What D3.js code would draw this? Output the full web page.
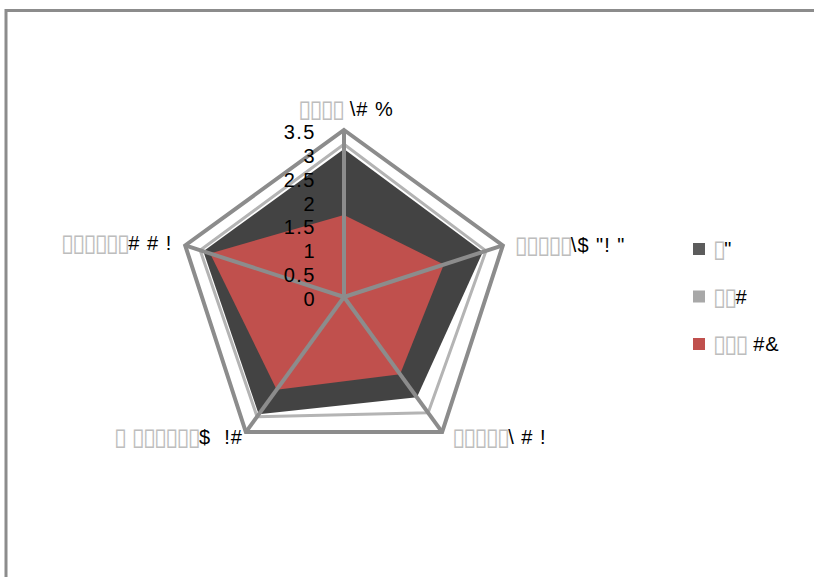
<!DOCTYPE html>
<html>
<head>
<meta charset="utf-8">
<script src="https://cdn.jsdelivr.net/npm/d3@7"></script>
<style>
  body { margin: 0; background: #fff; }
  text { font-family: "Liberation Sans", Arial, sans-serif; white-space: pre; }
  .box { font-family: "DejaVu Sans", sans-serif; font-size: 24px; }
</style>
</head>
<body>
<div id="chart"></div>
<script>

// chart size, and where the radar sits
const width = 814;
const height = 577;
const cx = 344, cy = 297;
const maxR = 167;

// data (labels are as garbled as in the original)
const categories = ['▯▯▯▯ \\# %', '▯▯▯▯▯\\$ "! "', '▯▯▯▯▯\\ # !', '▯ ▯▯▯▯▯▯$  !#', '▯▯▯▯▯▯# # !'];
const seriesNames = ['▯"', '▯▯#', '▯▯▯ #&'];
const seriesDark = [3.1, 3.06, 2.6, 3.04, 3.1];
const seriesLight = [3.2, 3.13, 3.0, 3.1, 3.17];
const seriesRed = [1.72, 2.2, 2.0, 2.4, 2.95];
const ticks = [0, 0.5, 1, 1.5, 2, 2.5, 3, 3.5];

const colors = ['#434343', '#b4b4b4', '#c0504d'];
const legendColors = ['#5c5c5c', '#a8a8a8', '#c0504d'];
const gridColor = '#8c8c8c';

const svg = d3.select("#chart")
  .append("svg")
  .attr("width", width)
  .attr("height", height);

// outer frame, runs off the right and bottom edges
svg.append("rect")
  .attr("x", 6).attr("y", 10.5)
  .attr("width", 900).attr("height", 700)
  .attr("fill", "none")
  .attr("stroke", gridColor)
  .attr("stroke-width", 3);

const rScale = d3.scaleLinear()
  .domain([0, d3.max(ticks)])
  .range([0, maxR]);

const angle = i => i * 2 * Math.PI / categories.length;

const radar = d3.lineRadial()
  .angle((d, i) => angle(i))
  .radius(d => rScale(d))
  .curve(d3.curveLinearClosed);

const g = svg.append("g").attr("transform", `translate(${cx},${cy})`);

// light series: only its edge shows
g.append("path")
  .attr("d", radar(seriesLight))
  .attr("fill", "#fff")
  .attr("stroke", colors[1])
  .attr("stroke-width", 3)
  .attr("stroke-linejoin", "round");

g.append("path")
  .attr("d", radar(seriesDark))
  .attr("fill", colors[0]);

g.append("path")
  .attr("d", radar(seriesRed))
  .attr("fill", colors[2]);

// outer gridline at the max tick
g.append("path")
  .attr("d", radar(categories.map(() => d3.max(ticks))))
  .attr("fill", "none")
  .attr("stroke", gridColor)
  .attr("stroke-width", 4);

// spokes
g.selectAll(".spoke")
  .data(categories)
  .enter()
  .append("line")
    .attr("class", "spoke")
    .attr("x1", 0).attr("y1", 0)
    .attr("x2", (d, i) => rScale(d3.max(ticks)) * Math.sin(angle(i)))
    .attr("y2", (d, i) => -rScale(d3.max(ticks)) * Math.cos(angle(i)))
    .attr("stroke", gridColor)
    .attr("stroke-width", 4);

// tick labels up the top spoke
g.selectAll(".tick")
  .data(ticks)
  .enter()
  .append("text")
    .attr("class", "tick")
    .attr("x", -28)
    .attr("y", d => -rScale(d) + 2)
    .attr("text-anchor", "end")
    .attr("dominant-baseline", "central")
    .attr("font-size", "20px")
    .attr("letter-spacing", "1.5px")
    .attr("fill", "#000")
    .text(d => d);

// category labels: offsets from each vertex
const labelPos = [
  {dx: 2, dy: -21, anchor: "middle"},
  {dx: 12, dy: 0, anchor: "start"},
  {dx: 10, dy: 5, anchor: "start"},
  {dx: -3, dy: 5, anchor: "end"},
  {dx: -13, dy: -2, anchor: "end"}
];

// split a label into runs so the missing-glyph boxes come out grey
function addRuns(sel, str) {
  const runs = str.match(/▯+|[^▯]+/g) || [];
  runs.forEach(r => {
    const box = r[0] === '▯';
    sel.append("tspan")
      .attr("class", box ? "box" : null)
      .attr("fill", box ? "#bdbdbd" : "#000")
      .attr("letter-spacing", box ? "-2px" : "1px")
      .text(r);
  });
}

g.selectAll(".cat")
  .data(categories)
  .enter()
  .append("text")
    .attr("class", "cat")
    .attr("x", (d, i) => rScale(d3.max(ticks)) * Math.sin(angle(i)) + labelPos[i].dx)
    .attr("y", (d, i) => -rScale(d3.max(ticks)) * Math.cos(angle(i)) + labelPos[i].dy)
    .attr("text-anchor", (d, i) => labelPos[i].anchor)
    .attr("dominant-baseline", "central")
    .attr("font-size", "20px")
    .each(function(d) { addRuns(d3.select(this), d); });

// legend
const legendY = d3.scalePoint()
  .domain(seriesNames)
  .range([249, 344]);

const legend = svg.selectAll(".legend")
  .data(seriesNames)
  .enter()
  .append("g")
    .attr("class", "legend")
    .attr("transform", d => `translate(693,${legendY(d)})`);

legend.append("rect")
  .attr("x", 0).attr("y", -6)
  .attr("width", 12).attr("height", 12)
  .attr("fill", (d, i) => legendColors[i]);

legend.append("text")
  .attr("x", 20)
  .attr("y", 0)
  .attr("dominant-baseline", "central")
  .attr("font-size", "20px")
  .each(function(d) { addRuns(d3.select(this), d); });

</script>
</body>
</html>
